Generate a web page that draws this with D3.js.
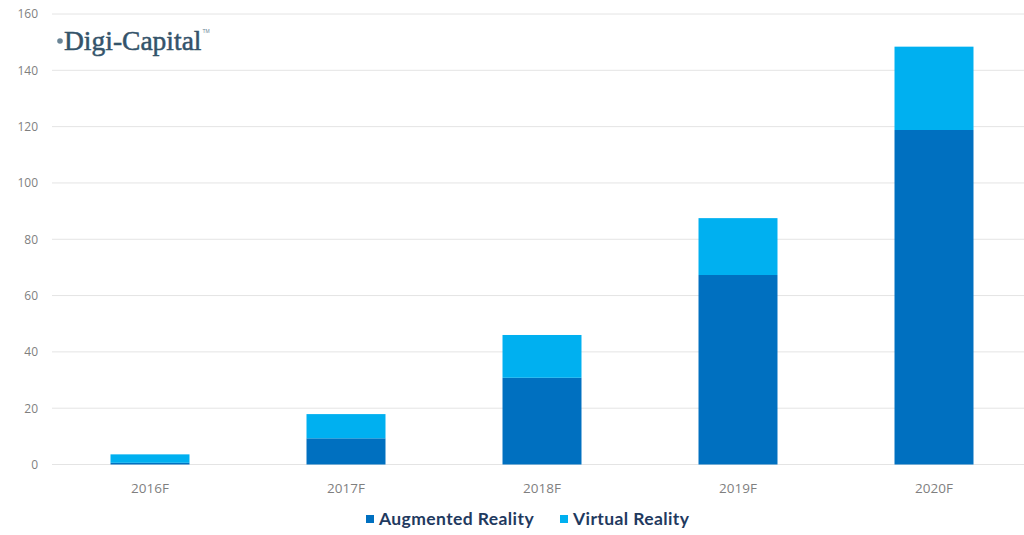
<!DOCTYPE html>
<head>
  <meta charset="utf-8" />
  <title>AR/VR revenue forecast</title>
  <script src="https://d3js.org/d3.v7.min.js"></script>
</head>
<style>
  body {
    margin: 0;
    background: #fff;
  }
  .axis text {
    font-family: "Open Sans", sans-serif;
  }
</style>
<body>
  <div id="container"></div>
  <script>
    // values ($B)
    var years = ["2016F", "2017F", "2018F", "2019F", "2020F"];
    var augmented = [0.6, 9.3, 30.8, 67.3, 118.8];
    var virtualR = [3.0, 8.6, 15.2, 20.2, 29.6];
    var yTicks = [0, 20, 40, 60, 80, 100, 120, 140, 160];
    var seriesNames = ["Augmented Reality", "Virtual Reality"];
    var colors = ["#0070c0", "#00b0f0"];

    var width = 1024,
      height = 535;

    var svg = d3
      .select("#container")
      .append("svg")
      .attr("width", width)
      .attr("height", height);

    var x = d3
      .scaleBand()
      .domain(years)
      .range([52, 1032])
      .paddingInner(0.597)
      .paddingOuter(0.2985);

    var y = d3.scaleLinear().domain([0, 160]).range([464.5, 14]);

    // gridlines
    svg
      .append("g")
      .selectAll("line")
      .data(yTicks)
      .enter()
      .append("line")
      .attr("x1", 52)
      .attr("x2", 1024)
      .attr("y1", (d) => y(d))
      .attr("y2", (d) => y(d))
      .style("stroke", "#e4e4e4")
      .style("stroke-width", 1);

    // y axis labels
    var yAxis = svg
      .append("g")
      .attr("class", "axis")
      .attr("transform", "translate(38,0)")
      .call(d3.axisLeft(y).tickValues(yTicks).tickSize(0).tickPadding(0));
    yAxis.select(".domain").remove();
    yAxis
      .selectAll("text")
      .style("font-size", "12px")
      .style("fill", "#7f7f7f");

    // x axis labels
    var xAxis = svg
      .append("g")
      .attr("class", "axis")
      .attr("transform", "translate(0," + y(0) + ")")
      .call(d3.axisBottom(x).tickSize(0).tickPadding(19));
    xAxis.select(".domain").remove();
    xAxis
      .selectAll("text")
      .style("font-size", "13.5px")
      .style("fill", "#7f7f7f");

    var table = years.map(function (yr, i) {
      return { year: yr, ar: augmented[i], vr: virtualR[i] };
    });
    var stack = d3.stack().keys(["ar", "vr"])(table);

    svg
      .append("g")
      .selectAll("g")
      .data(stack)
      .enter()
      .append("g")
      .style("fill", (d, i) => colors[i])
      .selectAll("rect")
      .data((d) => d)
      .enter()
      .append("rect")
      .attr("x", (d) => x(d.data.year))
      .attr("width", x.bandwidth())
      .attr("y", (d) => y(d[1]))
      .attr("height", (d) => y(d[0]) - y(d[1]));

    // logo
    var logo = svg.append("g").attr("transform", "translate(56,50)");
    logo
      .append("circle")
      .attr("cx", 4)
      .attr("cy", -9)
      .attr("r", 2.8)
      .style("fill", "#6b8596");
    var logoText = logo
      .append("text")
      .attr("x", 8)
      .attr("y", 0)
      .style("font-family", "'Liberation Serif', 'DejaVu Serif', serif")
      .style("font-size", "27.5px")
      .style("fill", "#34536a")
      .style("stroke", "#34536a")
      .style("stroke-width", 0.5)
      .text("Digi-Capital");
    var logoW = logoText.node().getComputedTextLength();
    logo
      .append("text")
      .attr("x", 8 + logoW + 1)
      .attr("y", -17)
      .style("font-family", "sans-serif")
      .style("font-size", "5px")
      .style("fill", "#6b8596")
      .text("TM");

    // legend
    var legend = svg.append("g").attr("transform", "translate(366,525)");
    var legendX = [0, 194];
    seriesNames.forEach(function (name, i) {
      legend
        .append("rect")
        .attr("x", legendX[i])
        .attr("y", -10)
        .attr("width", 8)
        .attr("height", 8)
        .style("fill", colors[i]);
      legend
        .append("text")
        .attr("x", legendX[i] + 13)
        .attr("y", 0)
        .style("font-family", "Lato, 'Open Sans', sans-serif")
        .style("font-weight", "bold")
        .style("font-size", "17.5px")
        .style("letter-spacing", "0.4px")
        .style("fill", "#1f3a5f")
        .text(name);
    });
  </script>
</body>
